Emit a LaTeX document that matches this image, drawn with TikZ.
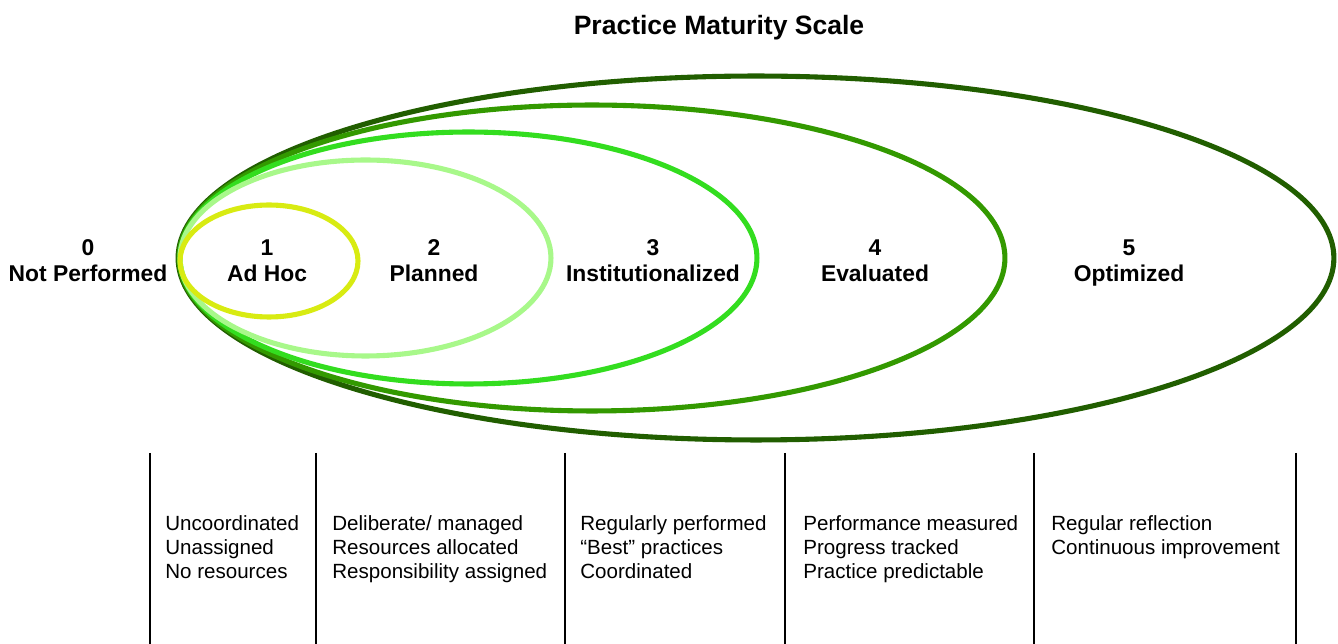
\documentclass[tikz,border=0pt]{standalone}
\usepackage{fontspec}
\setmainfont{Liberation Sans}
\usepackage{tikz}
\usetikzlibrary{positioning}

\definecolor{AdHocYellow}{HTML}{D8EB12}
\definecolor{PlannedGreen}{HTML}{A8F88A}
\definecolor{InstGreen}{HTML}{33DD1F}
\definecolor{EvalGreen}{HTML}{339900}
\definecolor{OptGreen}{HTML}{215E00}

\begin{document}
\begin{tikzpicture}[x=0.02cm, y=-0.02cm]
			\tikzstyle{Ring}	= [line width=2.9pt]
			\tikzstyle{Level}	= [align=center, inner sep=0pt, anchor=base, font=\fontsize{13}{15.3}\selectfont\bfseries]
			\tikzstyle{Desc}	= [align=left, inner sep=0pt, anchor=base west, font=\fontsize{11.7}{13.9}\selectfont]
			\tikzstyle{Divider}	= [black, line width=0.6pt]
			
			\useasboundingbox (0,0) rectangle (1338,644);
			
			\node (title) at (719,35) [Level, font=\fontsize{15.1}{18}\selectfont\bfseries] {Practice Maturity Scale};
			
			% the scale, outermost first
			\draw [Ring, OptGreen]     (756,258)   ellipse [x radius=11.56cm, y radius=3.64cm];
			\draw [Ring, EvalGreen]    (592,258)   ellipse [x radius=8.26cm,  y radius=3.06cm];
			\draw [Ring, InstGreen]    (468.5,258) ellipse [x radius=5.77cm,  y radius=2.52cm];
			\draw [Ring, PlannedGreen] (365.5,258) ellipse [x radius=3.71cm,  y radius=1.96cm];
			\draw [Ring, AdHocYellow]  (269,261)   ellipse [x radius=1.78cm,  y radius=1.12cm];
			
			% base is the last line
			\node (l0) at (88,282)   [Level] {0\\Not Performed};
			\node (l1) at (267,282)  [Level] {1\\Ad Hoc};
			\node (l2) at (434,282)  [Level] {2\\Planned};
			\node (l3) at (653,282)  [Level] {3\\Institutionalized};
			\node (l4) at (875,282)  [Level] {4\\Evaluated};
			\node (l5) at (1129,282) [Level] {5\\Optimized};
			
			\coordinate (t1) at (150,453);  \coordinate (b1) at (150,644);
			\coordinate (t2) at (316,453);  \coordinate (b2) at (316,644);
			\coordinate (t3) at (565,453);  \coordinate (b3) at (565,644);
			\coordinate (t4) at (785,453);  \coordinate (b4) at (785,644);
			\coordinate (t5) at (1034,453); \coordinate (b5) at (1034,644);
			\coordinate (t6) at (1296,453); \coordinate (b6) at (1296,644);
			
			\draw [Divider] (t1) -- (b1);
			\draw [Divider] (t2) -- (b2);
			\draw [Divider] (t3) -- (b3);
			\draw [Divider] (t4) -- (b4);
			\draw [Divider] (t5) -- (b5);
			\draw [Divider] (t6) -- (b6);
			
			\node (d1) at (165,579)  [Desc] {Uncoordinated\\Unassigned\\No resources};
			\node (d2) at (332,579)  [Desc] {Deliberate/ managed\\Resources allocated\\Responsibility assigned};
			\node (d3) at (580,579)  [Desc] {Regularly performed\\``Best'' practices\\Coordinated};
			\node (d4) at (803,579)  [Desc] {Performance measured\\Progress tracked\\Practice predictable};
			\node (d5) at (1051,554.5) [Desc] {Regular reflection\\Continuous improvement};
		\end{tikzpicture}
\end{document}
